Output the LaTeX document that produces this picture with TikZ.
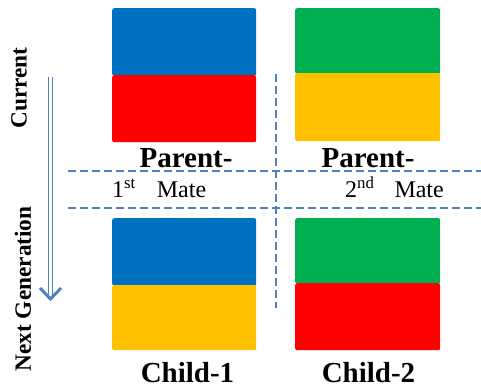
\documentclass[tikz,border=0pt]{standalone}
\usepackage{fontspec}
\setmainfont{Liberation Serif}
\usetikzlibrary{arrows.meta}
\definecolor{cblue}{RGB}{0,112,192}
\definecolor{cred}{RGB}{255,0,0}
\definecolor{cgreen}{RGB}{0,176,80}
\definecolor{cyellow}{RGB}{255,192,0}
\definecolor{cline}{RGB}{79,129,189}
\begin{document}
\begin{tikzpicture}[x=1pt,y=-1pt,
  blk/.style={draw=none,rounded corners=2pt,inner sep=0pt,minimum width=144pt,anchor=north west},
  dline/.style={draw=cline,line width=2pt,dash pattern=on 8pt off 4pt},
  bigl/.style={font=\fontsize{29}{33}\selectfont\bfseries,inner sep=0pt,anchor=base},
  matel/.style={font=\fontsize{24}{28}\selectfont,inner sep=0pt,anchor=base west},
  sidel/.style={font=\fontsize{23.3}{27}\selectfont\bfseries,inner sep=0pt,rotate=90}]
\useasboundingbox (0,0) rectangle (481,387);
% parent blocks
\node[blk,fill=cblue,minimum height=67.5pt] (p1a) at (112,8) {};
\node[blk,fill=cred,minimum height=67pt] (p1b) at (112,75) {};
\node[blk,fill=cgreen,minimum height=65.5pt,minimum width=145pt] (p2a) at (295,8) {};
\node[blk,fill=cyellow,minimum height=68pt,minimum width=145pt] (p2b) at (295,73) {};
% child blocks
\node[blk,fill=cblue,minimum height=67.5pt] (c1a) at (112,218) {};
\node[blk,fill=cyellow,minimum height=65pt] (c1b) at (112,285) {};
\node[blk,fill=cgreen,minimum height=65.5pt,minimum width=145pt] (c2a) at (295,218) {};
\node[blk,fill=cred,minimum height=67pt,minimum width=145pt] (c2b) at (295,283) {};
% dashed lines
\coordinate (h1s) at (68,171.5);
\coordinate (h1e) at (481,171.5);
\coordinate (h2s) at (68,208.5);
\coordinate (h2e) at (481,208.5);
\coordinate (vs) at (276,74);
\coordinate (ve) at (276,308);
\draw[dline] (h1s) -- (h1e);
\draw[dline] (h2s) -- (h2e);
\draw[dline] (vs) -- (ve);
% labels
\node[bigl] (par1) at (186,167.5) {Parent-};
\node[bigl] (par2) at (368,167.5) {Parent-};
\node[matel] (mate1) at (112,198) {1\textsuperscript{st}\hspace{15pt} Mate};
\node[matel] (mate2) at (345,198) {2\textsuperscript{nd}\hspace{14pt} Mate};
\node[bigl] (ch1) at (187.5,382) {Child-1};
\node[bigl] (ch2) at (368.5,382) {Child-2};
\node[sidel] (cur) at (19,88) {Current};
\node[sidel] (nextg) at (23,289) {Next Generation};
% arrow
\coordinate (as) at (50.5,77);
\coordinate (am) at (50.5,297);
\coordinate (ae) at (50.5,299);
\coordinate (awl) at (40,288);
\coordinate (awr) at (61,288);
\draw[cline,line width=1.2pt,double=white,double distance=2.2pt] (as) -- (am);
\draw[cline,line width=3pt,line join=miter] (awl) -- (ae) -- (awr);
\end{tikzpicture}
\end{document}
